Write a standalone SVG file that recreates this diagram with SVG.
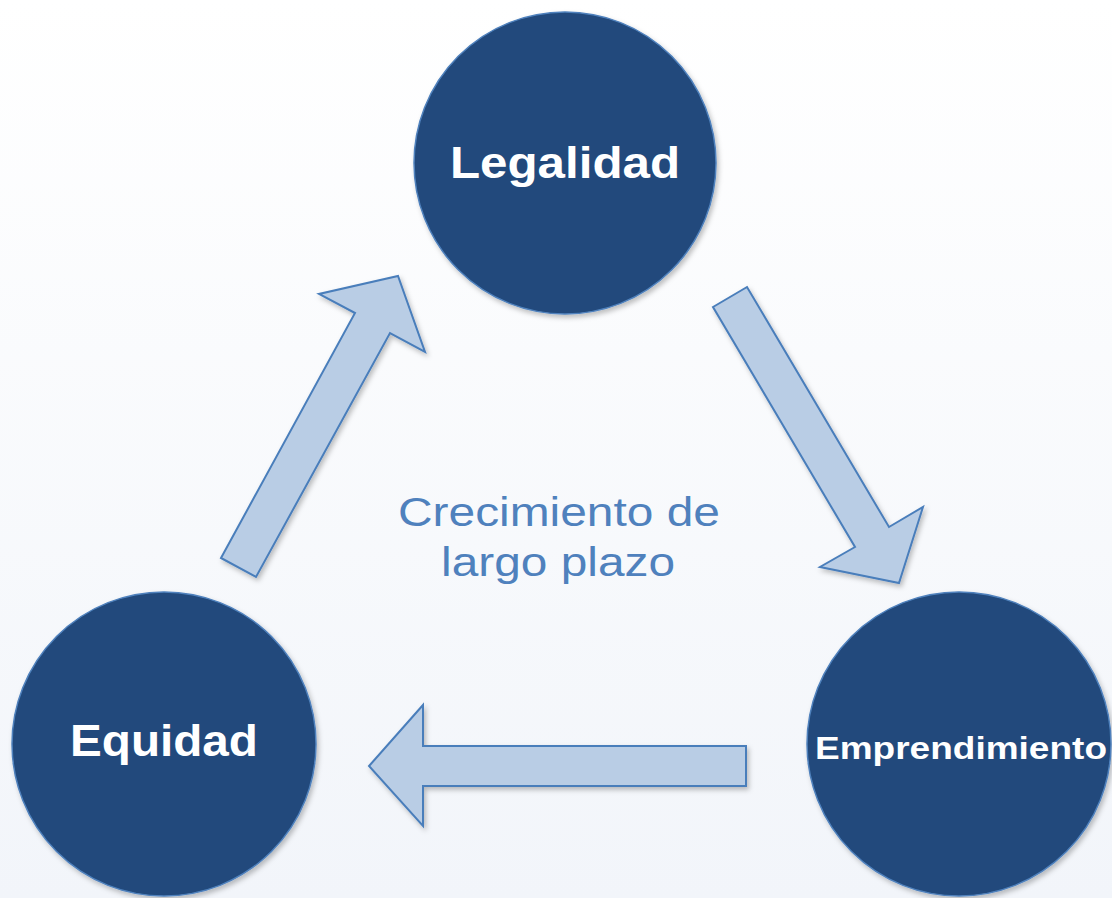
<svg xmlns="http://www.w3.org/2000/svg" width="1112" height="898" viewBox="0 0 1112 898">
<defs>
<linearGradient id="bg" x1="0" y1="0" x2="0" y2="1">
<stop offset="0" stop-color="#ffffff"/>
<stop offset="1" stop-color="#f2f5fa"/>
</linearGradient>
<filter id="sh" x="-10%" y="-10%" width="120%" height="120%">
<feDropShadow dx="2" dy="3" stdDeviation="2.5" flood-color="#000" flood-opacity="0.25"/>
</filter>
</defs>
<style>
.node{fill:#214a7c;stroke:#4f81bd;stroke-width:1.5;filter:url(#sh)}
.arrow{fill:#b9cde5;stroke:#4a7ebb;stroke-width:2;stroke-linejoin:miter;filter:url(#sh)}
.lbl{fill:#ffffff;font-family:"Century Gothic","Liberation Sans",Arial,sans-serif;font-weight:bold;text-anchor:middle}
.ctr{fill:#4f81bd;font-family:"Century Gothic","Liberation Sans",Arial,sans-serif;font-size:40px;text-anchor:middle}
</style>
<rect width="1112" height="898" fill="url(#bg)"/>
<g id="connectors">
<polygon class="arrow" points="221,558 355,313 319,294 398,276 425,352 390,333 256,577"/>
<polygon class="arrow" points="713,307 747,287 889,527 923,507 899,583 820,567 855,547"/>
<polygon class="arrow" points="746,746 423,746 423,705 369,766 423,826 423,786 746,786"/>
</g>
<g id="legalidad">
<circle class="node" cx="565" cy="163" r="151"/>
<text class="lbl" x="565" y="178" font-size="44" textLength="230" lengthAdjust="spacingAndGlyphs">Legalidad</text>
</g>
<g id="equidad">
<circle class="node" cx="164" cy="744" r="152"/>
<text class="lbl" x="164" y="756" font-size="44" textLength="188" lengthAdjust="spacingAndGlyphs">Equidad</text>
</g>
<g id="emprendimiento">
<circle class="node" cx="959" cy="744" r="152"/>
<text class="lbl" x="961" y="759" font-size="31" textLength="292" lengthAdjust="spacingAndGlyphs">Emprendimiento</text>
</g>
<g id="center-label">
<text class="ctr" x="559" y="526" textLength="322" lengthAdjust="spacingAndGlyphs">Crecimiento de</text>
<text class="ctr" x="558" y="576" textLength="234" lengthAdjust="spacingAndGlyphs">largo plazo</text>
</g>
</svg>
